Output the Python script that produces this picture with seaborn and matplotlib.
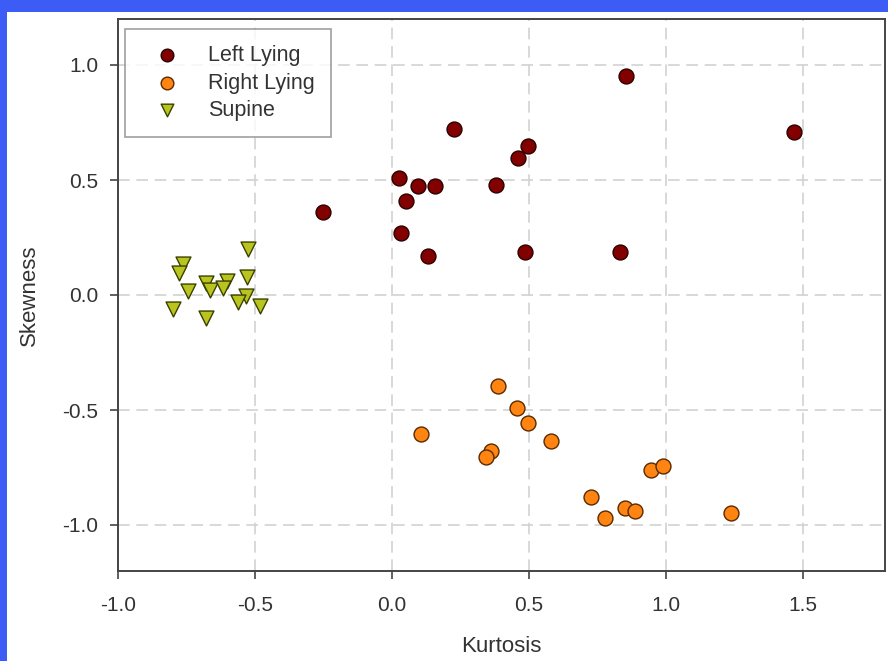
import matplotlib
matplotlib.use("Agg")
import matplotlib.pyplot as plt
import matplotlib.patches as mpatches
import seaborn as sns
import pandas as pd

# Kurtosis / skewness per posture
left_kurt = [-0.253, 0.027, 0.096, 0.158, 0.052, 0.034, 0.133, 0.227, 0.380,
             0.460, 0.497, 0.486, 0.854, 0.832, 1.469]
left_skew = [0.359, 0.507, 0.472, 0.472, 0.407, 0.271, 0.171, 0.722, 0.477,
             0.595, 0.647, 0.188, 0.954, 0.188, 0.709]

right_kurt = [0.387, 0.457, 0.497, 0.580, 0.107, 0.362, 0.344, 0.726, 0.777,
              0.850, 0.886, 0.945, 0.988, 1.236]
right_skew = [-0.394, -0.490, -0.556, -0.634, -0.604, -0.678, -0.704, -0.879,
              -0.971, -0.927, -0.940, -0.761, -0.744, -0.949]

supine_kurt = [-0.527, -0.763, -0.778, -0.530, -0.745, -0.680, -0.665, -0.603,
               -0.618, -0.534, -0.563, -0.483, -0.800, -0.680]
supine_skew = [0.201, 0.136, 0.096, 0.079, 0.017, 0.052, 0.022, 0.061,
               0.031, -0.004, -0.031, -0.048, -0.061, -0.101]

groups = ["Left Lying", "Right Lying", "Supine"]
x_ticks = [-1.0, -0.5, 0.0, 0.5, 1.0, 1.5]
y_ticks = [-1.0, -0.5, 0.0, 0.5, 1.0]

df = pd.concat([
    pd.DataFrame({"Kurtosis": left_kurt, "Skewness": left_skew, "Position": groups[0]}),
    pd.DataFrame({"Kurtosis": right_kurt, "Skewness": right_skew, "Position": groups[1]}),
    pd.DataFrame({"Kurtosis": supine_kurt, "Skewness": supine_skew, "Position": groups[2]}),
], ignore_index=True)

sns.set_style("white")
plt.rcParams["font.family"] = ["Liberation Sans", "DejaVu Sans"]

fig = plt.figure(figsize=(8.88, 6.61), dpi=100)
fig.patch.set_facecolor("#3d5cf5")
# white page inside the blue frame
fig.patches.append(mpatches.Rectangle((7 / 888, 0), 1, (661 - 12) / 661,
                                      transform=fig.transFigure,
                                      facecolor="white", edgecolor="none",
                                      zorder=-10))

ax = fig.add_axes([118 / 888, 90 / 661, 767 / 888, 552 / 661])

palette = {"Left Lying": "#820000", "Right Lying": "#ff8412", "Supine": "#b9c41e"}
edges = {"Left Lying": "#2a0000", "Right Lying": "#5a2a00", "Supine": "#3a4000"}
markers = {"Left Lying": "o", "Right Lying": "o", "Supine": "v"}

for g in groups:
    sub = df[df["Position"] == g]
    sns.scatterplot(data=sub, x="Kurtosis", y="Skewness", ax=ax,
                    color=palette[g], marker=markers[g], s=115,
                    edgecolor=edges[g], linewidth=1.0, label=g, zorder=3)

ax.set_xlim(-1.0, 1.8)
ax.set_ylim(-1.2, 1.2)
ax.set_xticks(x_ticks)
ax.set_yticks(y_ticks)
ax.set_xticklabels([f"{v:.1f}" for v in x_ticks])
ax.set_yticklabels([f"{v:.1f}" for v in y_ticks])

ax.grid(True, color="#d2d2d2", linestyle=(0, (7, 4)), linewidth=1.2)
ax.set_axisbelow(True)
for sp in ax.spines.values():
    sp.set_visible(True)
    sp.set_color("#444444")
    sp.set_linewidth(1.4)

ax.tick_params(axis="both", which="major", direction="out", length=6,
               width=1.2, color="#444444", labelsize=15,
               labelcolor="#333333", bottom=True, left=True)
ax.tick_params(axis="x", pad=12)
ax.tick_params(axis="y", pad=8)

ax.set_xlabel("Kurtosis", fontsize=16, color="#333333", labelpad=15)
ax.set_ylabel("Skewness", fontsize=16, color="#333333", labelpad=16)

leg = ax.legend(loc="upper left", bbox_to_anchor=(0.009, 0.982),
                borderaxespad=0, fontsize=15.5, frameon=True, fancybox=False,
                borderpad=0.75, labelspacing=0.3, handlelength=2.4,
                handletextpad=0.7, markerscale=0.85)
leg.get_frame().set_edgecolor("#888888")
leg.get_frame().set_linewidth(1.2)
for t in leg.get_texts():
    t.set_color("#333333")

fig.savefig("out.png", dpi=100, facecolor=fig.get_facecolor())
